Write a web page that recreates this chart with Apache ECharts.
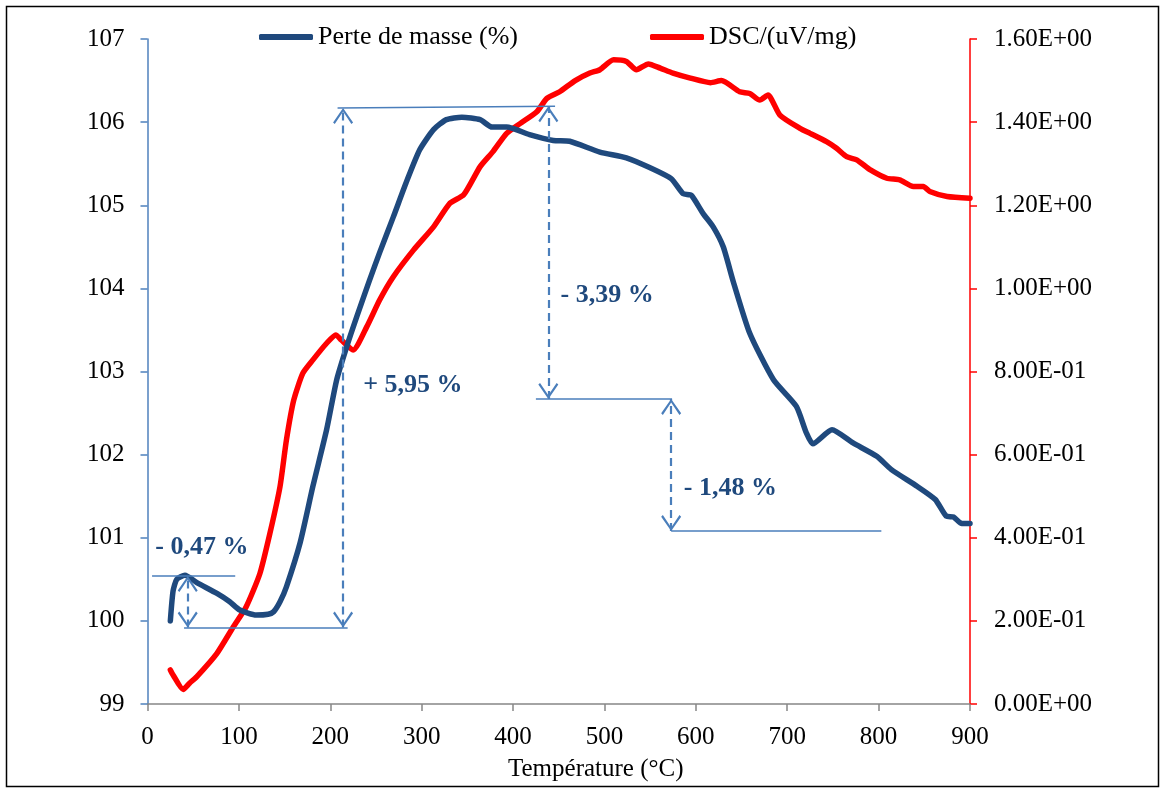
<!DOCTYPE html>
<html><head><meta charset="utf-8">
<script src="https://cdn.jsdelivr.net/npm/echarts@6/dist/echarts.min.js"></script>
<style>html,body{margin:0;padding:0;background:#fff}#c{width:1164px;height:789px}</style>
</head><body><div id="c"></div>
<script>
// ---- data ----
const seriesNames = ['Perte de masse (%)', 'DSC/(uV/mg)'];
const xAxisTitle = 'Température (°C)';

const massT = [25, 28, 32, 41, 54, 76, 90, 101, 119, 132, 138, 145, 152, 167, 181, 196, 207, 218, 229, 243, 254, 269, 284, 298, 313, 327, 344, 364, 377, 393, 418, 444, 462, 495, 524, 550, 573, 586, 595, 608, 619, 630, 641, 659, 685, 710, 721, 728, 749, 772, 798, 814, 842, 862, 874, 882, 891, 900];
const massV = [100.00, 100.36, 100.50, 100.55, 100.46, 100.33, 100.23, 100.13, 100.07, 100.08, 100.11, 100.23, 100.41, 100.94, 101.62, 102.30, 102.90, 103.30, 103.66, 104.10, 104.43, 104.86, 105.30, 105.67, 105.91, 106.03, 106.06, 106.03, 105.94, 105.94, 105.85, 105.78, 105.77, 105.64, 105.57, 105.45, 105.32, 105.14, 105.12, 104.90, 104.74, 104.50, 104.08, 103.46, 102.90, 102.58, 102.26, 102.13, 102.30, 102.14, 101.98, 101.82, 101.62, 101.46, 101.26, 101.25, 101.17, 101.17];

const dscT = [25, 28, 39, 46, 54, 76, 94, 108, 123, 134, 145, 152, 160, 170, 181, 196, 206, 212, 225, 240, 254, 269, 291, 313, 331, 346, 364, 378, 393, 408, 426, 437, 451, 468, 484, 495, 510, 524, 535, 548, 561, 575, 594, 616, 628, 648, 659, 670, 679, 692, 714, 725, 743, 754, 765, 776, 791, 809, 823, 838, 849, 856, 875, 900];
const dscV = [0.082, 0.070, 0.035, 0.050, 0.066, 0.122, 0.186, 0.234, 0.314, 0.411, 0.523, 0.635, 0.731, 0.796, 0.828, 0.868, 0.888, 0.876, 0.852, 0.908, 0.972, 1.028, 1.092, 1.148, 1.205, 1.225, 1.293, 1.329, 1.373, 1.397, 1.425, 1.457, 1.473, 1.500, 1.518, 1.526, 1.550, 1.546, 1.526, 1.540, 1.530, 1.518, 1.506, 1.495, 1.500, 1.473, 1.469, 1.453, 1.465, 1.417, 1.385, 1.373, 1.353, 1.337, 1.317, 1.309, 1.285, 1.265, 1.261, 1.245, 1.245, 1.233, 1.221, 1.217];

// annotations (data coordinates, left axis)
const annotLabels = ['- 0,47 %', '+ 5,95 %', '- 3,39 %', '- 1,48 %'];
const annotPos = [[8, 100.88], [235.5, 102.83], [451.4, 103.92], [586.3, 101.60]];
const refLines = [[5, 100.54, 96, 100.54], [40, 99.92, 219, 99.92], [208, 106.17, 446, 106.19], [425, 102.67, 574, 102.67], [573, 101.08, 803, 101.08]];
const arrows = [[44, 99.92, 44, 100.54], [214, 99.92, 214, 106.17], [438.6, 102.67, 438.6, 106.19], [573, 101.08, 573, 102.67]];

// ---- chart ----
const FONT = "'Liberation Serif', 'Times New Roman', serif";
const BLUE = '#1F497D', RED = '#FF0000', ANN = '#4A7EBB';
// open chevron whose tip sits at the symbol centre (tiny sliver at top only sets the bounding box)
const chevron = 'path://M9.95,0 L10.05,0 L10,0.1 Z M10,16 L20,30.4 L18.3,32 L10,19.6 L1.7,32 L0,30.4 Z';

function sci(v) {
  if (Math.abs(v) < 1e-12) return '0.00E+00';
  const s = v.toExponential(2).split('e');
  const e = parseInt(s[1], 10);
  return s[0] + 'E' + (e < 0 ? '-' : '+') + String(Math.abs(e)).padStart(2, '0');
}

const chart = echarts.init(document.getElementById('c'), null, {renderer: 'canvas'});
chart.setOption({
  animation: false,
  backgroundColor: '#fff',
  textStyle: {fontFamily: FONT},
  graphic: [{type: 'rect', shape: {x: 6.5, y: 6.5, width: 1152, height: 780}, style: {fill: 'none', stroke: '#000', lineWidth: 1.5}, silent: true}],
  grid: {left: 147.5, right: 194, top: 39, bottom: 85},
  legend: [
    {data: [seriesNames[0]], left: 254, top: 19, icon: 'roundRect', itemWidth: 54, itemHeight: 6,
     textStyle: {fontFamily: FONT, fontSize: 26, color: '#000'}},
    {data: [seriesNames[1]], left: 645, top: 19, icon: 'roundRect', itemWidth: 54, itemHeight: 6,
     textStyle: {fontFamily: FONT, fontSize: 26, color: '#000'}}
  ],
  xAxis: {
    type: 'value', min: 0, max: 900, interval: 100,
    name: xAxisTitle, nameLocation: 'middle', nameGap: 53,
    nameTextStyle: {fontFamily: FONT, fontSize: 25, color: '#000', padding: [0, 0, 0, 74]},
    axisLine: {show: true, onZero: false, lineStyle: {color: '#868686', width: 1.5}},
    axisTick: {show: true, inside: false, length: 7, lineStyle: {color: '#868686', width: 1.5}},
    axisLabel: {fontFamily: FONT, fontSize: 25, color: '#000', margin: 21},
    splitLine: {show: false}
  },
  yAxis: [
    {type: 'value', min: 99, max: 107, interval: 1, position: 'left',
     axisLine: {show: true, lineStyle: {color: '#4F81BD', width: 1.5}},
     axisTick: {show: true, inside: false, length: 7, lineStyle: {color: '#4F81BD', width: 1.5}},
     axisLabel: {fontFamily: FONT, fontSize: 25, color: '#000', margin: 23},
     splitLine: {show: false}},
    {type: 'value', min: 0, max: 1.6, interval: 0.2, position: 'right',
     axisLine: {show: true, lineStyle: {color: RED, width: 1.5}},
     axisTick: {show: true, inside: false, length: 7, lineStyle: {color: RED, width: 1.5}},
     axisLabel: {fontFamily: FONT, fontSize: 25, color: '#000', margin: 24, formatter: sci},
     splitLine: {show: false}}
  ],
  series: [
    {name: seriesNames[0], type: 'line', yAxisIndex: 0, showSymbol: false, smooth: 0.2,
     data: massT.map((t, i) => [t, massV[i]]),
     lineStyle: {color: BLUE, width: 5.5, cap: 'round', join: 'round'}, itemStyle: {color: BLUE}, z: 3},
    {name: seriesNames[1], type: 'line', yAxisIndex: 1, showSymbol: false, smooth: 0.2,
     data: dscT.map((t, i) => [t, dscV[i]]),
     lineStyle: {color: RED, width: 5.5, cap: 'round', join: 'round'}, itemStyle: {color: RED}, z: 2},
    {name: 'refLines', type: 'line', yAxisIndex: 0, data: [], silent: true, z: 4,
     markLine: {silent: true, symbol: ['none', 'none'], label: {show: false},
       lineStyle: {color: ANN, width: 1.5, type: 'solid'},
       data: refLines.map(l => [{coord: [l[0], l[1]]}, {coord: [l[2], l[3]]}])}},
    {name: 'arrows', type: 'line', yAxisIndex: 0, data: [], silent: true, z: 4,
     markLine: {silent: true, symbol: [chevron, chevron], symbolSize: [20, 32], label: {show: false},
       lineStyle: {color: ANN, width: 2.2, type: [8, 5]},
       data: arrows.map(l => [{coord: [l[0], l[1]]}, {coord: [l[2], l[3]]}])},
     markPoint: {silent: true, symbol: 'circle', symbolSize: 1, itemStyle: {color: 'rgba(0,0,0,0)'},
       label: {show: true, position: 'right', distance: 0, formatter: '{b}',
         fontFamily: FONT, fontSize: 26, fontWeight: 'bold', color: BLUE},
       data: annotLabels.map((t, i) => ({name: t, coord: annotPos[i]}))}}
  ]
});
</script></body></html>
